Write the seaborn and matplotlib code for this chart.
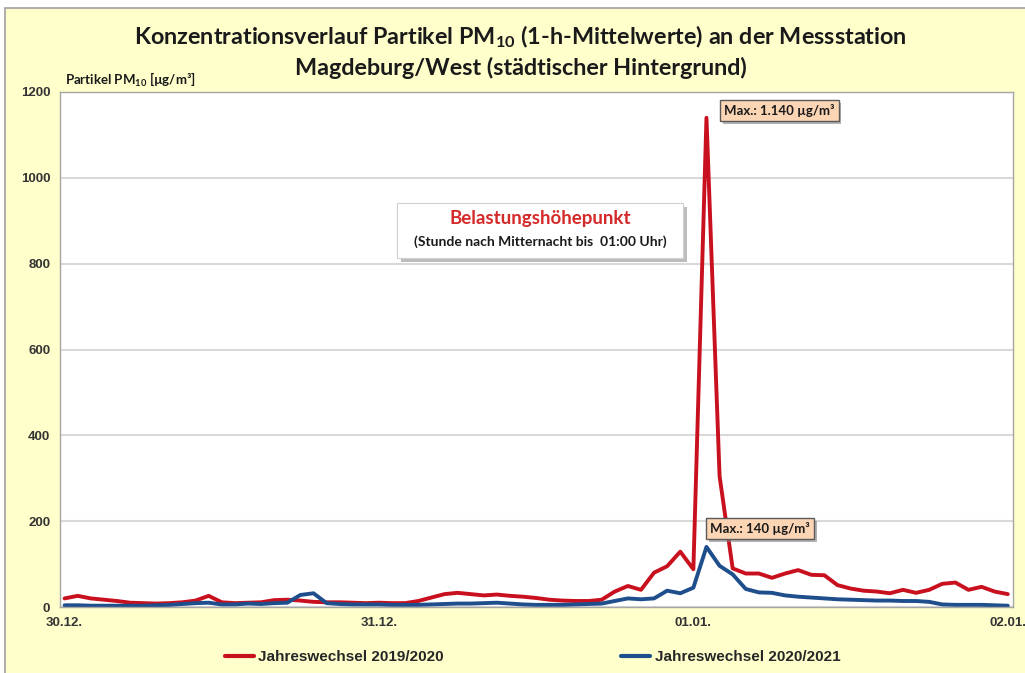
import pandas as pd
import matplotlib
matplotlib.use('Agg')
import matplotlib.pyplot as plt
import matplotlib.patheffects as pe
from matplotlib.patches import Rectangle
import seaborn as sns

# Stunden ab 30.12. 00:00 (1-h-Mittelwerte)
hours = list(range(73))
pm10_2019_2020 = [20, 26, 20, 17, 14, 10, 9, 8, 9, 11, 15, 26, 11, 9, 10, 11, 16, 17, 15, 12, 11, 11, 10, 9,
                  10, 9, 9, 14, 22, 30, 33, 30, 27, 29, 26, 24, 21, 17, 15, 14, 14, 17, 36, 49, 40, 80, 95, 129, 88,
                  1140, 305, 90, 78, 78, 68, 78, 86, 75, 74, 51, 43, 38, 36, 32, 40, 33, 40, 54, 57, 40, 47, 36, 30]
pm10_2020_2021 = [4, 4, 3, 3, 3, 3, 3, 4, 5, 7, 9, 10, 6, 6, 8, 7, 9, 10, 28, 32, 9, 7, 6, 6,
                  6, 5, 5, 5, 6, 7, 8, 8, 9, 10, 8, 6, 5, 5, 5, 6, 7, 8, 14, 20, 18, 20, 38, 32, 45,
                  140, 96, 76, 42, 34, 33, 27, 24, 22, 20, 18, 17, 16, 15, 15, 14, 14, 12, 6, 5, 5, 5, 4, 3]
series_names = ['Jahreswechsel 2019/2020', 'Jahreswechsel 2020/2021']
series_colors = ['#C8101E', '#1F4E8C']
tick_hours = [0, 24, 48, 72]
tick_labels = ['30.12.', '31.12.', '01.01.', '02.01.']

df = pd.concat([
    pd.DataFrame({'Stunde': hours, 'PM10': pm10_2019_2020, 'Zeitraum': series_names[0]}),
    pd.DataFrame({'Stunde': hours, 'PM10': pm10_2020_2021, 'Zeitraum': series_names[1]}),
])

sns.set_style('white')
plt.rcParams['font.family'] = ['Lato', 'DejaVu Sans']
plt.rcParams['mathtext.fontset'] = 'custom'
plt.rcParams['mathtext.rm'] = 'Lato'
plt.rcParams['mathtext.bf'] = 'Lato:bold'

fig = plt.figure(figsize=(10.25, 6.73), dpi=100)
fig.patch.set_facecolor('white')
fig.add_artist(Rectangle((5 / 1025, -0.01), 1.0, (673 - 8) / 673 + 0.01, transform=fig.transFigure,
                         facecolor='#FFFFCC', edgecolor='#A0A0A0', linewidth=1.2, zorder=-1))

ax = fig.add_axes([60 / 1025, 1 - 607 / 673, (1013 - 60) / 1025, (607 - 92) / 673])
ax.set_facecolor('white')

sns.lineplot(data=df, x='Stunde', y='PM10', hue='Zeitraum', palette=series_colors,
             linewidth=2.8, ax=ax)

ax.set_xlim(-0.35, 72.4)
ax.set_ylim(0, 1200)
ax.set_yticks(range(0, 1201, 200))
ax.set_xticks(tick_hours)
ax.set_xticklabels(tick_labels)
ax.set_xlabel('')
ax.set_ylabel('')
ax.grid(axis='y', color='#D9D9D9', linewidth=1.5)
ax.set_axisbelow(True)
for s in ax.spines.values():
    s.set_color('#A6A6A6')
    s.set_linewidth(1.0)
ax.tick_params(axis='both', which='major', length=3, width=1, color='#A6A6A6', pad=4)
for lab in ax.get_xticklabels() + ax.get_yticklabels():
    lab.set_fontfamily('Liberation Sans')
    lab.set_fontweight('bold')
    lab.set_fontsize(9.5)
    lab.set_color('#333333')

# Titel
fig.text(0.508, 1 - 37 / 673, r'Konzentrationsverlauf Partikel PM$_\mathbf{10}$ (1-h-Mittelwerte) an der Messstation',
         ha='center', va='center', fontsize=16.8, fontweight='bold', color='#1a1a1a')
fig.text(0.508, 1 - 68 / 673, 'Magdeburg/West (städtischer Hintergrund)',
         ha='center', va='center', fontsize=16.8, fontweight='bold', color='#1a1a1a')
fig.text(65 / 1025, 1 - 80 / 673, r'Partikel PM$_\mathbf{10}$ [µg/m³]',
         ha='left', va='center', fontsize=9.5, fontweight='bold', color='#1a1a1a')

shadow = [pe.withSimplePatchShadow(offset=(2, -2), shadow_rgbFace='#808080', alpha=0.6)]

# Maximum-Kästen
t1 = ax.text(50.35, 1156, 'Max.: 1.140 µg/m³', ha='left', va='center', fontsize=9.5,
             fontweight='bold', color='#1a1a1a',
             bbox=dict(boxstyle='square,pad=0.3', facecolor='#FCD5B4', edgecolor='#595959', linewidth=1))
t1.get_bbox_patch().set_path_effects(shadow)
t2 = ax.text(49.3, 183, 'Max.: 140 µg/m³', ha='left', va='center', fontsize=9.5,
             fontweight='bold', color='#1a1a1a',
             bbox=dict(boxstyle='square,pad=0.3', facecolor='#FCD5B4', edgecolor='#595959', linewidth=1))
t2.get_bbox_patch().set_path_effects(shadow)

# Hinweis-Kasten
box = Rectangle((25.4, 813), 21.8, 128, facecolor='white', edgecolor='#D0D0D0', linewidth=0.8, zorder=4)
box.set_path_effects([pe.withSimplePatchShadow(offset=(3, -3), shadow_rgbFace='#909090', alpha=0.6)])
ax.add_patch(box)
ax.text(36.3, 906, 'Belastungshöhepunkt', ha='center', va='center', fontsize=13.5,
        fontweight='bold', color='#D42A2A', zorder=5)
ax.text(36.3, 852, '(Stunde nach Mitternacht bis  01:00 Uhr)', ha='center', va='center', fontsize=10,
        fontweight='bold', color='#1a1a1a', zorder=5)

sns.move_legend(ax, 'center', bbox_to_anchor=(0.496, -0.097), ncol=2, frameon=False, title=None,
                columnspacing=11.6, handlelength=1.9, handletextpad=0.3,
                prop={'family': 'Liberation Sans', 'weight': 'bold', 'size': 11})
for line in ax.get_legend().get_lines():
    line.set_linewidth(3)

fig.savefig('out.png', dpi=100)
